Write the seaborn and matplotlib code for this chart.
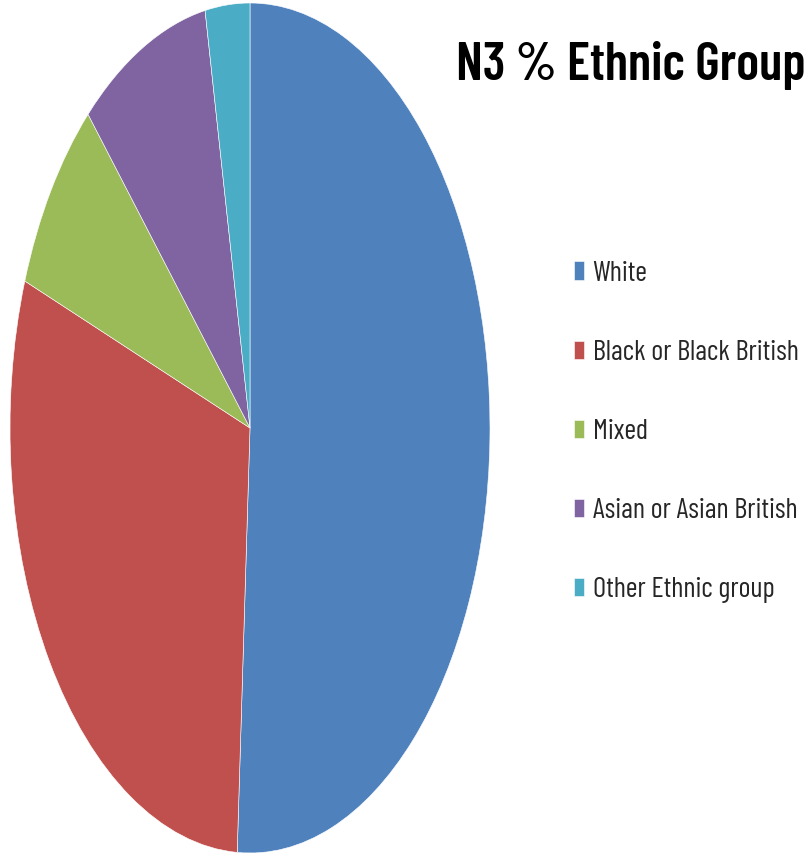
import matplotlib
matplotlib.use("Agg")
import matplotlib.pyplot as plt
import seaborn as sns

categories = ["White", "Black or Black British", "Mixed", "Asian or Asian British", "Other Ethnic group"]
values = [50.9, 29.8, 7.6, 8.8, 3.0]
colors = ["#4F81BD", "#C0504D", "#9BBB59", "#8064A2", "#4BACC6"]
title = "N3 % Ethnic Group"

sns.set_theme(style="white")
plt.rcParams['font.family'] = ['Barlow Condensed', 'Liberation Sans', 'DejaVu Sans']

fig = plt.figure(figsize=(8.09, 8.56), dpi=100)
ax = fig.add_axes([10/809, 3/856, 480/809, 850/856])
wedges, _ = ax.pie(values, colors=colors, startangle=90, counterclock=False,
                   radius=1, wedgeprops=dict(edgecolor="white", linewidth=0.4))
ax.set_xlim(-1, 1)
ax.set_ylim(-1, 1)
ax.set_aspect("auto")
ax.axis("off")

fig.text(805/809, 1 - 65/856, title, ha="right", va="center",
         fontsize=38, fontweight=600, color="black")

fig.legend(wedges, categories, loc="center left",
           bbox_to_anchor=(574/809, 1 - 432/856), frameon=False,
           fontsize=20.5, labelspacing=1.87, handlelength=0.35, handleheight=0.6,
           handletextpad=0.3, borderaxespad=0, borderpad=0)

fig.savefig("out.png", dpi=100, facecolor="white")
